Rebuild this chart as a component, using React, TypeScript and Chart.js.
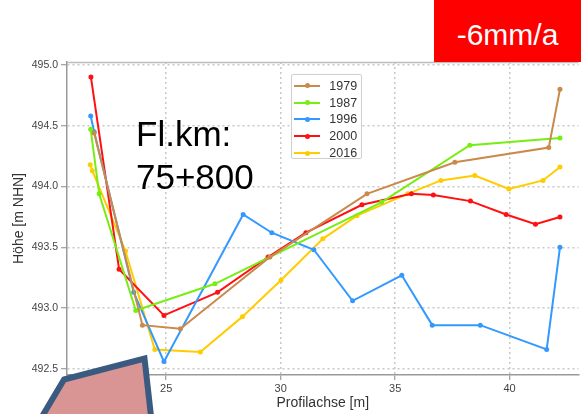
import React, { useEffect, useRef } from 'react';
import { Chart, registerables } from 'chart.js';

Chart.register(...registerables);

// ---- data ----
const seriesLabels = ['1979', '1987', '1996', '2000', '2016'];
const seriesColors = ['#c98a4b', '#77ee11', '#3399ff', '#ff1111', '#ffcc00'];

const x1979 = [21.85, 23.96, 25.62, 29.53, 33.77, 37.61, 41.71, 42.2];
const y1979 = [494.44, 492.86, 492.83, 493.42, 493.94, 494.2, 494.32, 494.8];

const x1987 = [21.7, 22.07, 23.67, 27.13, 34.4, 38.26, 42.2];
const y1987 = [494.47, 493.94, 492.98, 493.2, 493.87, 494.34, 494.4];

const x1996 = [21.7, 21.85, 23.58, 24.9, 28.36, 29.61, 31.45, 33.14, 35.29, 36.62, 38.72, 41.62, 42.2];
const y1996 = [494.58, 494.45, 493.13, 492.56, 493.77, 493.62, 493.48, 493.06, 493.27, 492.86, 492.86, 492.66, 493.5];

const x2000 = [21.71, 22.94, 24.9, 27.24, 29.45, 31.1, 33.55, 35.71, 36.67, 38.29, 39.85, 41.13, 42.2];
const y2000 = [494.9, 493.32, 492.94, 493.13, 493.42, 493.62, 493.85, 493.94, 493.93, 493.88, 493.77, 493.69, 493.75];

const x2016 = [21.68, 21.77, 23.22, 24.5, 26.49, 28.33, 30.01, 31.84, 33.33, 35.55, 37.0, 38.48, 39.97, 41.46, 42.2];
const y2016 = [494.18, 494.13, 493.47, 492.66, 492.64, 492.93, 493.23, 493.57, 493.76, 493.94, 494.05, 494.09, 493.98, 494.05, 494.16];

const seriesX = [x1979, x1987, x1996, x2000, x2016];
const seriesY = [y1979, y1987, y1996, y2000, y2016];

const xTickStep = 5;
const yTickStep = 0.5;
const xTitle = 'Profilachse [m]';
const yTitle = 'Höhe [m NHN]';
const rateLabel = '-6mm/a';
const locationLines = ['Fl.km:', '75+800'];

const FONT = '"Liberation Sans", Arial, sans-serif';

export default function App() {
  const ref = useRef<HTMLCanvasElement>(null);

  useEffect(() => {
    const canvas = ref.current;
    if (!canvas) return;
    const datasets = seriesLabels.map((label, k) => ({
      label,
      data: seriesX[k].map((x, i) => ({ x, y: seriesY[k][i] })),
      borderColor: seriesColors[k],
      backgroundColor: seriesColors[k],
      borderWidth: 2,
      pointRadius: 2.5,
      pointBorderWidth: 0,
      pointHoverRadius: 2.5,
      tension: 0,
    }));

    const topLine = {
      id: 'topLine',
      afterDraw(chart: any) {
        const { ctx, chartArea } = chart;
        ctx.save();
        ctx.strokeStyle = '#bdbdbd';
        ctx.lineWidth = 1.5;
        ctx.beginPath();
        ctx.moveTo(chartArea.left, chartArea.top + 0.5);
        ctx.lineTo(chartArea.right, chartArea.top + 0.5);
        ctx.stroke();
        ctx.restore();
      },
    };

    const chart = new Chart(canvas, {
      type: 'line',
      data: { datasets },
      plugins: [topLine],
      options: {
        animation: false,
        responsive: false,
        maintainAspectRatio: false,
        layout: { padding: { top: 62, left: 0, right: 0, bottom: 0 } },
        plugins: {
          legend: { display: false },
          tooltip: { enabled: false },
        },
        font: { family: FONT },
        scales: {
          x: {
            type: 'linear',
            min: 20.665,
            max: 43.01,
            afterFit: (s: any) => { s.height = 39; },
            ticks: {
              stepSize: xTickStep,
              includeBounds: false,
              color: '#444',
              font: { family: FONT, size: 11 },
              padding: 2,
              maxRotation: 0,
              callback: (v: any) => String(v),
            },
            grid: {
              color: '#c8c8c8',
              lineWidth: 1.5,
              borderDash: [2, 3],
              tickLength: 5,
              tickColor: '#888',
              tickWidth: 1,
              tickBorderDash: [],
            } as any,
            border: { display: true, color: '#999', width: 1.5, dash: [2, 3] } as any,
            title: {
              display: true,
              text: xTitle,
              color: '#333',
              font: { family: FONT, size: 14 },
              padding: { top: 0, bottom: 2 },
            },
          },
          y: {
            type: 'linear',
            min: 492.45,
            max: 495.024,
            afterFit: (s: any) => { s.width = 67; },
            ticks: {
              stepSize: yTickStep,
              includeBounds: false,
              color: '#444',
              font: { family: FONT, size: 10.5 },
              padding: 3,
              callback: (v: any) => Number(v).toFixed(1),
            },
            grid: {
              color: '#c8c8c8',
              lineWidth: 1.5,
              borderDash: [2, 3],
              tickLength: 6,
              tickColor: '#888',
              tickWidth: 1,
              tickBorderDash: [],
            } as any,
            border: { display: true, color: '#999', width: 1.5, dash: [2, 3] } as any,
            title: {
              display: true,
              text: yTitle,
              color: '#333',
              font: { family: FONT, size: 14 },
              padding: { top: 11, bottom: 0 },
            },
          },
        },
      } as any,
    });
    return () => chart.destroy();
  }, []);

  return (
    <div style={{ position: 'absolute', left: 0, top: 0, width: 581, height: 414, overflow: 'hidden', background: '#fff' }}>
      <canvas ref={ref} width={581} height={414} style={{ position: 'absolute', left: 0, top: 0 }} />
      {/* rate box */}
      <div style={{ position: 'absolute', left: 434, top: 0, width: 147, height: 62, background: '#ff0000' }}>
        <div style={{ position: 'absolute', left: 0, width: 147, top: 19.6, lineHeight: '30px', fontSize: 30, fontFamily: FONT, color: '#fff', textAlign: 'center', whiteSpace: 'nowrap' }}>{rateLabel}</div>
      </div>
      {/* location text */}
      <div style={{ position: 'absolute', left: 136, top: 113.3, fontFamily: FONT, fontSize: 35, lineHeight: '42.6px', color: '#000', whiteSpace: 'nowrap' }}>
        {locationLines.map((t, i) => <div key={i}>{t}</div>)}
      </div>
      {/* legend */}
      <div style={{ position: 'absolute', left: 290.5, top: 74, width: 71, height: 85, background: '#fff', border: '1px solid #cfcfcf', borderRadius: 2, boxSizing: 'border-box', paddingTop: 2.2 }}>
        {seriesLabels.map((label, k) => (
          <div key={label} style={{ display: 'flex', alignItems: 'center', height: 16.9 }}>
            <div style={{ position: 'relative', marginLeft: 2.5, width: 26, height: 2, background: seriesColors[k] }}>
              <div style={{ position: 'absolute', left: 10.5, top: -1.5, width: 5, height: 5, borderRadius: '50%', background: seriesColors[k] }} />
            </div>
            <span style={{ marginLeft: 9.3, fontFamily: FONT, fontSize: 12.5, color: '#333', lineHeight: '14px' }}>{label}</span>
          </div>
        ))}
      </div>
      {/* decorative shape */}
      <svg width={581} height={414} style={{ position: 'absolute', left: 0, top: 0, pointerEvents: 'none' }}>
        <polygon points="64,379.5 144.5,358.5 152,425 37,425" fill="#d99594" stroke="#3b5a80" strokeWidth={6} strokeLinejoin="miter" />
      </svg>
    </div>
  );
}
